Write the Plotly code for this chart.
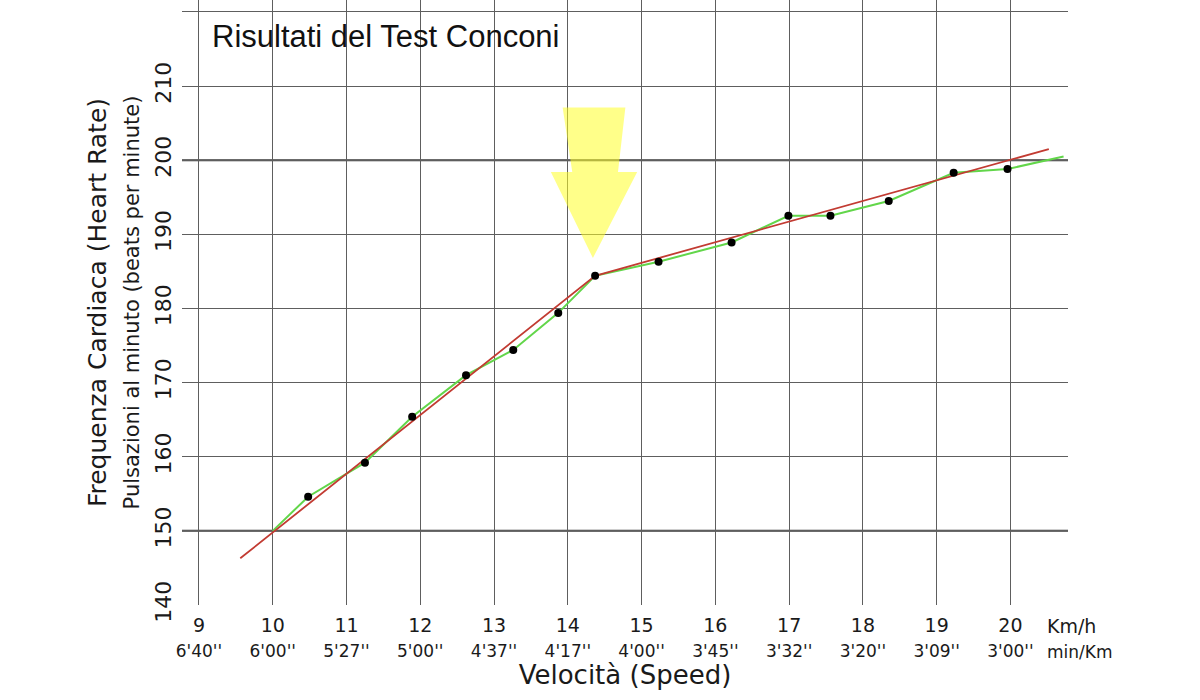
import plotly.graph_objects as go

# ---- data ----
speed_kmh = [10.48, 11.25, 11.89, 12.62, 13.26, 13.87, 14.37, 15.23, 16.22, 16.99, 17.56, 18.35, 19.23, 19.96]
heart_rate = [154.6, 159.2, 165.4, 171.0, 174.4, 179.4, 184.4, 186.3, 188.9, 192.5, 192.5, 194.5, 198.3, 198.8]

green_x = [10.0] + speed_kmh + [20.72]
green_y = [150.0] + heart_rate + [200.5]

red_x = [9.56, 14.37, 20.52]
red_y = [146.3, 184.4, 201.5]

arrow_x = [13.93, 14.78, 14.68, 14.94, 14.34, 13.77, 14.06, 13.93]
arrow_y = [207.1, 207.1, 198.4, 198.4, 186.8, 198.4, 198.4, 207.1]

x_ticks = [9, 10, 11, 12, 13, 14, 15, 16, 17, 18, 19, 20]
pace_labels = ["6'40''", "6'00''", "5'27''", "5'00''", "4'37''", "4'17''",
               "4'00''", "3'45''", "3'32''", "3'20''", "3'09''", "3'00''"]
y_ticks = [140, 150, 160, 170, 180, 190, 200, 210, 220]
y_labels = ["140", "150", "160", "170", "180", "190", "200", "210", ""]
major_lines = [150, 200]

FONT = "DejaVu Sans"
GRID = "#5e5e5e"

fig = go.Figure()

fig.add_trace(go.Scatter(x=arrow_x, y=arrow_y, fill="toself", mode="lines",
                         line=dict(width=0, color="rgba(255,255,0,0)"),
                         fillcolor="rgba(255,255,40,0.55)", hoverinfo="skip",
                         showlegend=False))
fig.add_trace(go.Scatter(x=green_x, y=green_y, mode="lines",
                         line=dict(color="#62d64a", width=2), showlegend=False))
fig.add_trace(go.Scatter(x=red_x, y=red_y, mode="lines",
                         line=dict(color="#c23b32", width=1.8), showlegend=False))
fig.add_trace(go.Scatter(x=speed_kmh, y=heart_rate, mode="markers",
                         marker=dict(color="black", size=8), showlegend=False))

for v in major_lines:
    fig.add_hline(y=v, line=dict(color="#3a3a3a", width=2), layer="below")

ticktext = [f"{v}<br><span style='font-size:17px'>{p}</span>" for v, p in zip(x_ticks, pace_labels)]

fig.update_layout(
    width=1200, height=700,
    margin=dict(l=182, r=132, t=0, b=95),
    paper_bgcolor="white", plot_bgcolor="white",
    font=dict(family=FONT, color="#1a1a1a"),
    xaxis=dict(range=[8.77, 20.78], tickvals=x_ticks, ticktext=ticktext,
               showgrid=True, gridcolor=GRID, gridwidth=1.4, zeroline=False,
               showline=False, ticks="outside", ticklen=3, tickcolor="rgba(0,0,0,0)",
               tickfont=dict(size=19, family=FONT),
               title=dict(text="Velocità (Speed)", font=dict(size=26, family=FONT), standoff=2)),
    yaxis=dict(range=[140, 221.6], tickvals=y_ticks, ticktext=y_labels, tickangle=-90,
               showgrid=True, gridcolor=GRID, gridwidth=1.4, zeroline=False,
               showline=False, ticks="outside", ticklen=1, tickcolor="rgba(0,0,0,0)",
               tickfont=dict(size=22, family=FONT),
               title=dict(text="Frequenza Cardiaca (Heart Rate)<br><span style='font-size:21px'>Pulsazioni al minuto (beats per minute)</span>",
                          font=dict(size=25, family=FONT), standoff=4)),
)

fig.add_annotation(text="Risultati del Test Conconi", xref="paper", yref="paper",
                   x=0.032, y=0.939, xanchor="left", yanchor="middle", showarrow=False,
                   font=dict(family="Liberation Sans", size=31, color="#111"))
fig.add_annotation(text="Km/h<br><span style='font-size:17px'>min/Km</span>", xref="x", yref="paper",
                   x=20.47, y=-0.014, xanchor="left", yanchor="top", align="left", showarrow=False,
                   font=dict(family=FONT, size=19, color="#1a1a1a"))

fig.write_html("out.html")
